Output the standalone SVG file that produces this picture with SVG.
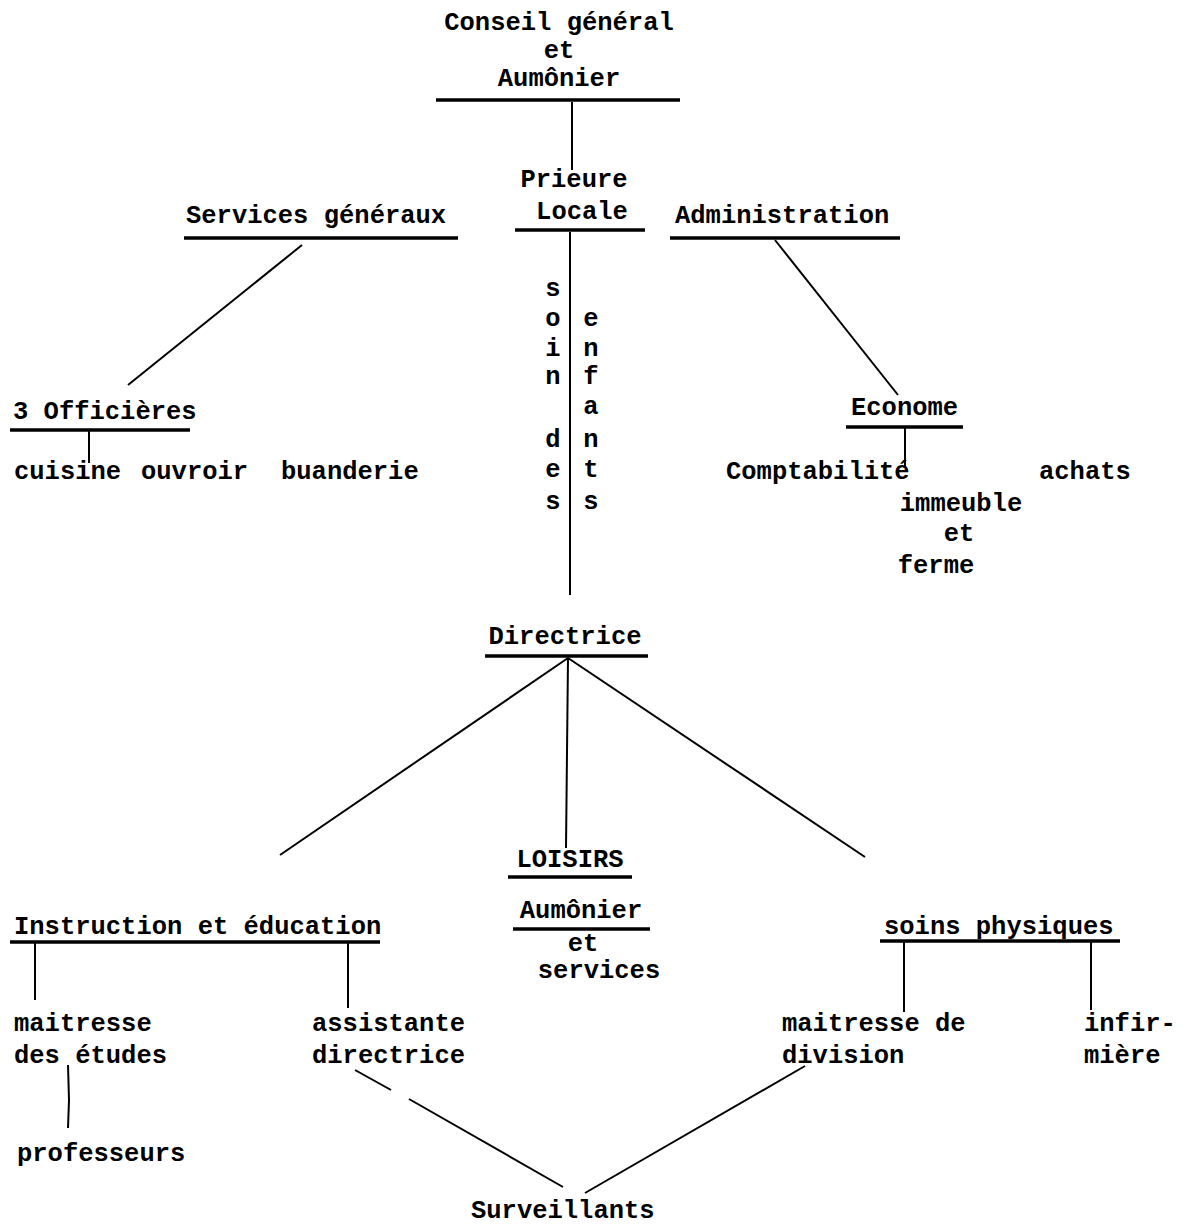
<svg xmlns="http://www.w3.org/2000/svg" width="1188" height="1227" viewBox="0 0 1188 1227">
<style>
text{font-family:"Liberation Mono","DejaVu Sans Mono",monospace;font-size:25.5px;font-weight:bold;fill:#000}
.ul{stroke:#000;stroke-width:3.5;fill:none}
.c line,.c polyline{stroke:#000;stroke-width:2;fill:none}
</style>
<rect width="1188" height="1227" fill="#fff"/>
<g class="c" id="connectors">
<line x1="572" y1="102" x2="572" y2="170"/>
<line x1="570" y1="232" x2="570" y2="595"/>
<line x1="302" y1="245" x2="128" y2="385"/>
<line x1="89" y1="430" x2="89" y2="463"/>
<line x1="775" y1="240" x2="898" y2="395"/>
<line x1="905" y1="428" x2="905" y2="466"/>
<line x1="568" y1="658" x2="280" y2="855"/>
<line x1="568" y1="658" x2="566" y2="848"/>
<line x1="568" y1="658" x2="865" y2="857"/>
<line x1="35" y1="943" x2="35" y2="1000"/>
<line x1="348" y1="943" x2="348" y2="1008"/>
<polyline points="68,1065 69,1100 68,1128"/>
<line x1="355" y1="1070" x2="391" y2="1090"/>
<line x1="409" y1="1099" x2="563" y2="1187"/>
<line x1="585" y1="1193" x2="805" y2="1066"/>
<line x1="904" y1="942" x2="904" y2="1012"/>
<line x1="1091" y1="942" x2="1091" y2="1010"/>
</g>
<g id="conseil">
<text x="559" y="30" text-anchor="middle">Conseil général</text>
<text x="559" y="58" text-anchor="middle">et</text>
<text x="559" y="86" text-anchor="middle">Aumônier</text>
<line class="ul" x1="436" y1="100" x2="680" y2="100"/>
</g>
<g id="prieure">
<text x="574" y="187" text-anchor="middle">Prieure</text>
<text x="582" y="219" text-anchor="middle">Locale</text>
<line class="ul" x1="515" y1="230" x2="645" y2="230"/>
</g>
<g id="services-generaux">
<text x="186" y="223">Services généraux</text>
<line class="ul" x1="184" y1="238" x2="458" y2="238"/>
</g>
<g id="officieres">
<text x="13" y="419">3 Officières</text>
<line class="ul" x1="10" y1="430" x2="190" y2="430"/>
</g>
<g id="cuisine"><text x="14" y="479">cuisine</text></g>
<g id="ouvroir"><text x="141" y="479">ouvroir</text></g>
<g id="buanderie"><text x="281" y="479">buanderie</text></g>
<g id="administration">
<text x="675" y="223">Administration</text>
<line class="ul" x1="670" y1="238" x2="900" y2="238"/>
</g>
<g id="econome">
<text x="851" y="415">Econome</text>
<line class="ul" x1="846" y1="427" x2="963" y2="427"/>
</g>
<g id="comptabilite"><text x="726" y="479">Comptabilité</text></g>
<g id="achats"><text x="1039" y="479">achats</text></g>
<g id="immeuble">
<text x="961" y="511" text-anchor="middle">immeuble</text>
<text x="959" y="541" text-anchor="middle">et</text>
<text x="936" y="573" text-anchor="middle">ferme</text>
</g>
<g id="soins-des-enfants">
<text x="553" y="296" text-anchor="middle">s</text>
<text x="553" y="326" text-anchor="middle">o</text>
<text x="553" y="356" text-anchor="middle">i</text>
<text x="553" y="384" text-anchor="middle">n</text>
<text x="553" y="447" text-anchor="middle">d</text>
<text x="553" y="477" text-anchor="middle">e</text>
<text x="553" y="509" text-anchor="middle">s</text>
<text x="591" y="326" text-anchor="middle">e</text>
<text x="591" y="356" text-anchor="middle">n</text>
<text x="591" y="384" text-anchor="middle">f</text>
<text x="591" y="414" text-anchor="middle">a</text>
<text x="591" y="447" text-anchor="middle">n</text>
<text x="591" y="477" text-anchor="middle">t</text>
<text x="591" y="509" text-anchor="middle">s</text>
</g>
<g id="directrice">
<text x="565" y="644" text-anchor="middle">Directrice</text>
<line class="ul" x1="485" y1="656" x2="648" y2="656"/>
</g>
<g id="loisirs">
<text x="570" y="867" text-anchor="middle">LOISIRS</text>
<line class="ul" x1="508" y1="877" x2="632" y2="877"/>
</g>
<g id="aumonier-services">
<text x="581" y="918" text-anchor="middle">Aumônier</text>
<line class="ul" x1="513" y1="929" x2="650" y2="929"/>
<text x="583" y="951" text-anchor="middle">et</text>
<text x="599" y="978" text-anchor="middle">services</text>
</g>
<g id="instruction">
<text x="14" y="934">Instruction et éducation</text>
<line class="ul" x1="10" y1="942" x2="380" y2="942"/>
</g>
<g id="maitresse-etudes">
<text x="14" y="1031">maitresse</text>
<text x="14" y="1063">des études</text>
</g>
<g id="professeurs"><text x="17" y="1161">professeurs</text></g>
<g id="assistante">
<text x="312" y="1031">assistante</text>
<text x="312" y="1063">directrice</text>
</g>
<g id="soins-physiques">
<text x="884" y="934">soins physiques</text>
<line class="ul" x1="880" y1="941" x2="1120" y2="941"/>
</g>
<g id="maitresse-division">
<text x="782" y="1031">maitresse de</text>
<text x="782" y="1063">division</text>
</g>
<g id="infirmiere">
<text x="1084" y="1031">infir-</text>
<text x="1084" y="1063">mière</text>
</g>
<g id="surveillants"><text x="471" y="1218">Surveillants</text></g>
</svg>
